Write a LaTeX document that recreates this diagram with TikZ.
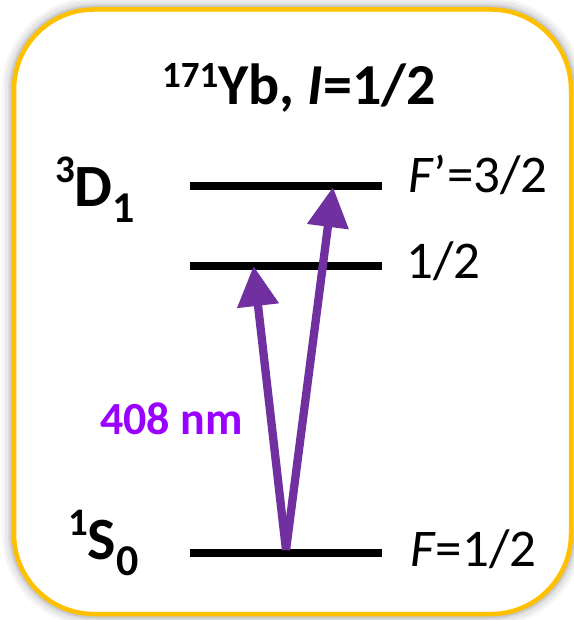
\documentclass[tikz,border=0pt]{standalone}
\usepackage{fontspec}
\setmainfont{Carlito}
\usetikzlibrary{arrows.meta}
\definecolor{boxorange}{HTML}{FFC000}
\definecolor{arrowpurple}{HTML}{7030A0}
\definecolor{textpurple}{RGB}{153,0,255}
\begin{document}
\begin{tikzpicture}[x=1pt,y=-1pt,
  level/.style={line width=7.5pt},
  excite/.style={arrowpurple, line width=8.3pt, -{Triangle[width=40pt,length=40pt]}},
  lab/.style={anchor=base west, inner sep=0pt, font=\fontsize{53}{53}\selectfont},
  term/.style={anchor=base west, inner sep=0pt, font=\bfseries\fontsize{60}{60}\selectfont},
  frame/.style={rounded corners=80pt}]
\useasboundingbox (0,0) rectangle (573,620);
% soft shadow
\foreach \w/\o in {24/0.04, 18/0.05, 12/0.06, 8/0.09}
  \draw[black, opacity=\o, line width=\w pt, frame] (14,9.5) rectangle (571,614);
\fill[white, frame] (14,9.5) rectangle (571,614);
\draw[boxorange, line width=4.5pt, frame] (14,9.5) rectangle (571,614);
% title
\node[term, font=\bfseries\fontsize{58}{58}\selectfont] (title) at (162,105) {\raisebox{17pt}{\fontsize{37}{37}\selectfont 171}Yb, \textit{I}=1/2};
% levels
\coordinate (Dh1) at (190,186); \coordinate (Dh2) at (382,186);
\coordinate (Dl1) at (190,266); \coordinate (Dl2) at (382,266);
\coordinate (S1) at (190,553);  \coordinate (S2) at (382,553);
\draw[level] (Dh1) -- (Dh2);
\draw[level] (Dl1) -- (Dl2);
\draw[level] (S1) -- (S2);
% term labels
\node[term] (Dlab) at (55,207) {\raisebox{24pt}{\fontsize{39}{39}\selectfont 3}D\raisebox{-16pt}{\fontsize{44}{44}\selectfont 1}};
\node[term] (Slab) at (68,559) {\raisebox{24pt}{\fontsize{39}{39}\selectfont 1}S\raisebox{-16pt}{\fontsize{44}{44}\selectfont 0}};
% F labels
\node[lab] (F32) at (408,193) {\textit{F}’=3/2};
\node[lab] (F12) at (406,278) {1/2};
\node[lab] (Fg) at (410,566) {\textit{F}=1/2};
% arrows
\coordinate (start) at (286,550);
\coordinate (tipA) at (253.5,266);
\coordinate (tipB) at (333,187);
\draw[excite] (start) -- (tipA);
\draw[excite] (start) -- (tipB);
\node[anchor=base west, inner sep=0pt, textpurple, font=\bfseries\fontsize{46}{46}\selectfont] (wl) at (100,434) {408 nm};
\end{tikzpicture}
\end{document}
